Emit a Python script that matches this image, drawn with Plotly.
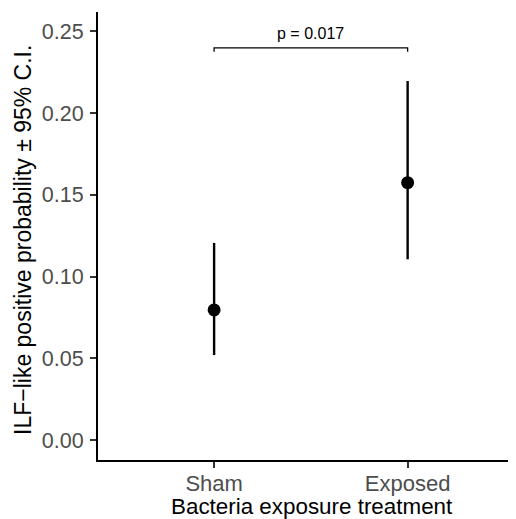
import plotly.graph_objects as go

# Data
categories = ["Sham", "Exposed"]
probability = [0.0796, 0.1575]
ci_lower = [0.0520, 0.1106]
ci_upper = [0.1206, 0.2197]
bracket_x = ["Sham", "Sham", "Exposed", "Exposed"]
bracket_y = [0.2376, 0.2399, 0.2399, 0.2376]
p_label = "p = 0.017"
y_ticks = [0.00, 0.05, 0.10, 0.15, 0.20, 0.25]
x_title = "Bacteria exposure treatment"
y_title = "ILF\u2212like positive probability \u00b1 95% C.I."

err_plus = [u - p for u, p in zip(ci_upper, probability)]
err_minus = [p - l for p, l in zip(probability, ci_lower)]

FONT = "Liberation Sans, Arial, Helvetica, sans-serif"
# the page body has an 8px margin, so the figure is drawn 8px in from the corner
OFF = 8
W, H = 516 - OFF, 519 - OFF
ML, MR, MT, MB = 98 - OFF, 0, 12 - OFF, 519 - 460
PW, PH = W - ML - MR, H - MT - MB


def px_x(px):
    return (px - OFF - ML) / PW


def px_y(py):
    return (H - MB - (py - OFF)) / PH


fig = go.Figure()
fig.add_trace(go.Scatter(
    x=categories, y=probability, mode="markers",
    marker=dict(color="black", size=13),
    error_y=dict(type="data", symmetric=False, array=err_plus, arrayminus=err_minus,
                 color="black", thickness=2.4, width=0),
    showlegend=False, hoverinfo="skip",
))
fig.add_trace(go.Scatter(
    x=bracket_x, y=bracket_y, mode="lines",
    line=dict(color="black", width=1.3),
    showlegend=False, hoverinfo="skip",
))
fig.add_annotation(
    x=0.5, y=bracket_y[1], text=p_label, showarrow=False,
    yanchor="bottom", yshift=4, xanchor="center",
    font=dict(family=FONT, size=16, color="black"),
)
# axis titles
fig.add_annotation(
    xref="paper", yref="paper", x=px_x(312), y=px_y(507), text=x_title,
    showarrow=False, xanchor="center", yanchor="middle",
    font=dict(family=FONT, size=22.4, color="black"),
)
fig.add_annotation(
    xref="paper", yref="paper", x=px_x(23), y=px_y(240), text=y_title,
    showarrow=False, xanchor="center", yanchor="middle", textangle=-90,
    font=dict(family=FONT, size=23, color="black"),
)

fig.update_layout(
    width=W, height=H,
    margin=dict(l=ML, r=MR, t=MT, b=MB, pad=0, autoexpand=False),
    paper_bgcolor="white", plot_bgcolor="white",
    font=dict(family=FONT),
    xaxis=dict(
        type="category", categoryorder="array", categoryarray=categories,
        range=[-0.6, 1.56], showgrid=False, zeroline=False, automargin=False,
        showline=True, linecolor="black", linewidth=2,
        ticks="outside", ticklen=6, tickwidth=2, tickcolor="#333333",
        ticklabelstandoff=-3,
        tickfont=dict(family=FONT, size=22, color="#4d4d4d"),
    ),
    yaxis=dict(
        range=[-0.0122, 0.2619], tickvals=y_ticks,
        ticktext=[f"{v:.2f}" for v in y_ticks],
        showgrid=False, zeroline=False, automargin=False,
        showline=True, linecolor="black", linewidth=2,
        ticks="outside", ticklen=6, tickwidth=2, tickcolor="#333333",
        ticklabelstandoff=2,
        tickfont=dict(family=FONT, size=21.5, color="#4d4d4d"),
    ),
)

fig.write_html("out.html")
